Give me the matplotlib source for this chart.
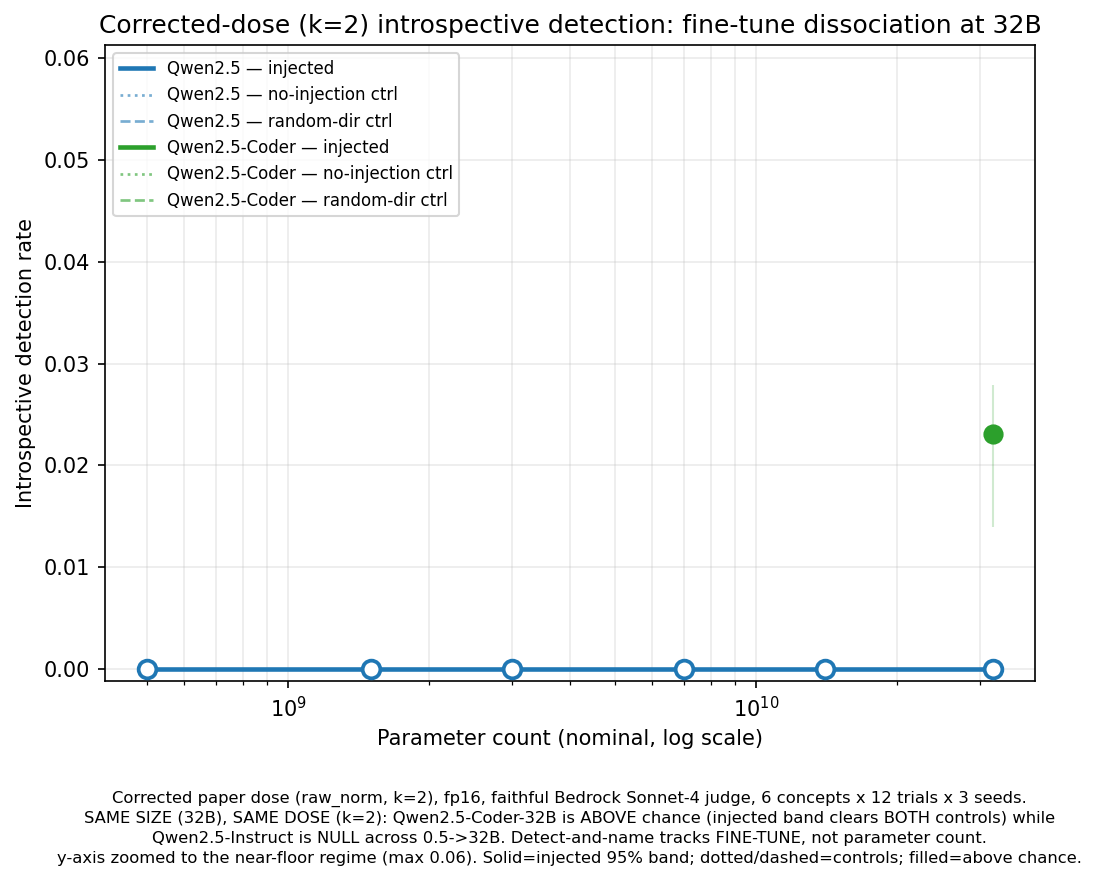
import numpy as np
import matplotlib
matplotlib.use("Agg")
import matplotlib.pyplot as plt
from matplotlib.lines import Line2D

# Data
params = [0.5e9, 1.5e9, 3e9, 7e9, 14e9, 32e9]
qwen_inj = [0.0, 0.0, 0.0, 0.0, 0.0, 0.0]
qwen_noinj = [0.0, 0.0, 0.0, 0.0, 0.0, 0.0]
qwen_rand = [0.0, 0.0, 0.0, 0.0, 0.0, 0.0]

coder_params = [32e9]
coder_inj = [0.0231]
coder_lo = [0.0139]
coder_hi = [0.0279]
coder_noinj = [0.0]
coder_rand = [0.0]

blue = "#1f77b4"
green = "#2ca02c"

DPI = 150
fig = plt.figure(figsize=(1097 / DPI, 885 / DPI), dpi=DPI)
ax = fig.add_axes([0.0957, 0.2305, 0.8478, 0.7185])

# controls
ax.plot(params, qwen_noinj, ls=":", color=blue, alpha=0.6, lw=1.3, zorder=1)
ax.plot(params, qwen_rand, ls="--", color=blue, alpha=0.6, lw=1.3, zorder=1)
ax.plot(params, qwen_inj, ls="-", color=blue, lw=2.2,
        marker="o", ms=8.5, mfc="white", mec=blue, mew=1.8, zorder=3)

# coder
ax.vlines(coder_params, coder_lo, coder_hi, color=green, alpha=0.22, lw=1.0, zorder=2)
ax.plot(coder_params, coder_inj, ls="-", color=green, lw=2.2,
        marker="o", ms=8.5, mfc=green, mec=green, mew=1.2, zorder=4)
ax.plot(coder_params, coder_noinj, ls=":", color=green, alpha=0.6, lw=1.3, zorder=1)
ax.plot(coder_params, coder_rand, ls="--", color=green, alpha=0.6, lw=1.3, zorder=1)

ax.set_xscale("log")
ax.set_ylim(-0.0012, 0.0613)
ax.grid(True, which="both", alpha=0.25)

ax.set_xlabel("Parameter count (nominal, log scale)")
ax.set_ylabel("Introspective detection rate")
ax.set_title("Corrected-dose (k=2) introspective detection: fine-tune dissociation at 32B",
             fontsize=12)

labels = ["Qwen2.5 — injected", "Qwen2.5 — no-injection ctrl", "Qwen2.5 — random-dir ctrl",
          "Qwen2.5-Coder — injected", "Qwen2.5-Coder — no-injection ctrl",
          "Qwen2.5-Coder — random-dir ctrl"]
leg_handles = [
    Line2D([], [], color=blue, lw=2.2),
    Line2D([], [], color=blue, lw=1.3, ls=":", alpha=0.6),
    Line2D([], [], color=blue, lw=1.3, ls="--", alpha=0.6),
    Line2D([], [], color=green, lw=2.2),
    Line2D([], [], color=green, lw=1.3, ls=":", alpha=0.6),
    Line2D([], [], color=green, lw=1.3, ls="--", alpha=0.6),
]
ax.legend(leg_handles, labels, loc="upper left", fontsize=8)

caption = ("Corrected paper dose (raw_norm, k=2), fp16, faithful Bedrock Sonnet-4 judge, 6 concepts x 12 trials x 3 seeds.\n"
           "SAME SIZE (32B), SAME DOSE (k=2): Qwen2.5-Coder-32B is ABOVE chance (injected band clears BOTH controls) while\n"
           "Qwen2.5-Instruct is NULL across 0.5->32B. Detect-and-name tracks FINE-TUNE, not parameter count.\n"
           "y-axis zoomed to the near-floor regime (max 0.06). Solid=injected 95% band; dotted/dashed=controls; filled=above chance.")
fig.text(0.519, 0.0215, caption, ha="center", va="bottom", fontsize=7.85, linespacing=1.4)

fig.savefig("out.png", dpi=DPI)
